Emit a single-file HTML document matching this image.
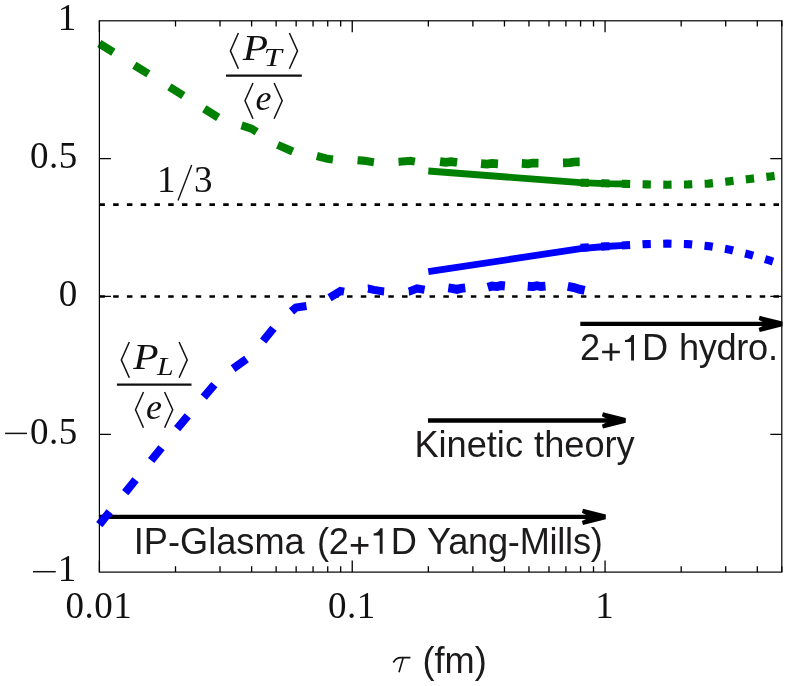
<!DOCTYPE html>
<html><head><meta charset="utf-8"><title>chart</title>
<style>html,body{margin:0;padding:0;background:#fff;}body{width:789px;height:686px;overflow:hidden;}svg{display:block;will-change:transform;}.s{font-family:"Liberation Serif",serif;fill:#111;}.h{font-family:"Liberation Sans",sans-serif;fill:#1c1a1b;}</style></head><body>
<svg width="789" height="686" viewBox="0 0 789 686">
<rect width="789" height="686" fill="#fff"/>
<line x1="99.4" y1="204.6" x2="781.8" y2="204.6" stroke="#000" stroke-width="2.7" stroke-dasharray="5.5 8.257"/>
<line x1="99.4" y1="296.5" x2="781.8" y2="296.5" stroke="#000" stroke-width="2.7" stroke-dasharray="5.5 8.257"/>
<path d="M99.40 572.10v-11.5M99.40 20.80v11.5M175.51 572.10v-5.8M175.51 20.80v5.8M220.03 572.10v-5.8M220.03 20.80v5.8M251.62 572.10v-5.8M251.62 20.80v5.8M276.13 572.10v-5.8M276.13 20.80v5.8M296.15 572.10v-5.8M296.15 20.80v5.8M313.07 572.10v-5.8M313.07 20.80v5.8M327.73 572.10v-5.8M327.73 20.80v5.8M340.67 572.10v-5.8M340.67 20.80v5.8M352.24 572.10v-11.5M352.24 20.80v11.5M428.35 572.10v-5.8M428.35 20.80v5.8M472.87 572.10v-5.8M472.87 20.80v5.8M504.46 572.10v-5.8M504.46 20.80v5.8M528.96 572.10v-5.8M528.96 20.80v5.8M548.98 572.10v-5.8M548.98 20.80v5.8M565.91 572.10v-5.8M565.91 20.80v5.8M580.57 572.10v-5.8M580.57 20.80v5.8M593.51 572.10v-5.8M593.51 20.80v5.8M605.07 572.10v-11.5M605.07 20.80v11.5M681.19 572.10v-5.8M681.19 20.80v5.8M725.71 572.10v-5.8M725.71 20.80v5.8M757.30 572.10v-5.8M757.30 20.80v5.8M781.80 572.10v-5.8M781.80 20.80v5.8M99.40 158.63h11.5M781.80 158.63h-11.5M99.40 296.45h11.5M781.80 296.45h-11.5M99.40 434.28h11.5M781.80 434.28h-11.5" stroke="#000" stroke-width="1.3" fill="none"/>
<line x1="580.3" y1="323.90" x2="767.5" y2="323.90" stroke="#000" stroke-width="4.4"/>
<polygon points="759.7,315.80 782.5,321.55 782.5,326.25 759.7,332.00 758.6,328.10 763.8,325.40 763.8,322.40 758.6,319.70" fill="#000"/>
<line x1="428.0" y1="420.45" x2="610.8" y2="420.45" stroke="#000" stroke-width="4.4"/>
<polygon points="603.0,412.35 625.8,418.10 625.8,422.80 603.0,428.55 601.9,424.65 607.1,421.95 607.1,418.95 601.9,416.25" fill="#000"/>
<line x1="99.3" y1="516.90" x2="590.8" y2="516.90" stroke="#000" stroke-width="4.4"/>
<polygon points="583.0,508.80 605.8,514.55 605.8,519.25 583.0,525.00 581.9,521.10 587.1,518.40 587.1,515.40 581.9,512.70" fill="#000"/>
<path d="M99.3 43.5 L175.4 90.6 L219.9 118.6 L251.5 128.6 L276.0 144.1 L296.0 153.0 L313.0 155.0 L327.6 158.8 L340.5 160.6 L352.1 159.8 L363.0 160.6 L372.1 161.9 L380.0 163.0 L399.5 161.8 L410.4 160.8 L415.8 161.8 L428.0 161.8" fill="none" stroke="#008000" stroke-width="8.1" stroke-dasharray="16.5 24.7"/>
<path d="M99.3 524.6 L175.4 430.6 L219.9 378.0 L251.5 355.5 L276.0 325.0 L296.0 307.5 L313.0 305.0 L327.6 298.9 L340.5 291.0 L352.1 293.0 L363.0 289.0 L368.3 288.5 L373.8 289.9 L383.9 291.5 L396.0 292.5 L409.2 291.5 L417.0 288.5 L425.1 289.9 L437.0 289.5" fill="none" stroke="#0000ff" stroke-width="8.1" stroke-dasharray="16.5 24.7"/>
<path d="M440.0 161.6 L446.0 162.4 L451.0 161.7 L457.1 162.5" fill="none" stroke="#008000" stroke-width="8.7"/>
<path d="M481.0 163.6 L487.0 164.1 L492.0 163.4 L498.0 163.8" fill="none" stroke="#008000" stroke-width="8.7"/>
<path d="M521.8 163.4 L528.0 163.8 L533.0 163.0 L538.5 163.1" fill="none" stroke="#008000" stroke-width="8.7"/>
<path d="M563.0 162.8 L570.0 162.6 L574.0 162.0 L579.7 161.9" fill="none" stroke="#008000" stroke-width="8.7"/>
<path d="M448.3 287.8 L452.0 288.3 L456.9 289.4 L461.0 288.4 L465.3 287.9" fill="none" stroke="#0000ff" stroke-width="8.9"/>
<path d="M487.8 287.2 L492.0 286.0 L497.0 286.6 L501.0 285.6 L504.9 286.0" fill="none" stroke="#0000ff" stroke-width="8.9"/>
<path d="M527.7 286.2 L533.0 286.6 L537.0 285.7 L541.0 286.5 L545.5 286.1" fill="none" stroke="#0000ff" stroke-width="8.9"/>
<path d="M567.8 286.4 L574.0 287.6 L579.0 289.2 L584.6 290.4" fill="none" stroke="#0000ff" stroke-width="8.9"/>
<path d="M428.3 171.0 L580.5 182.6 L605.0 183.6 L629.7 184.0" fill="none" stroke="#008000" stroke-width="6.8"/>
<path d="M428.3 271.7 L511.0 259.2 L580.7 248.6 L605.0 246.5 L629.7 245.2" fill="none" stroke="#0000ff" stroke-width="6.8"/>
<path d="M580.5 182.7 L584.4 182.8 L604.7 183.3 L625.5 183.9 L646.6 184.4 L667.1 184.7 L688.0 184.4 L708.5 183.6 L728.8 181.4 L749.6 178.9 L770.4 176.4 L781.7 175.0" fill="none" stroke="#008000" stroke-width="8.1" stroke-dasharray="8.3 12.4"/>
<path d="M580.5 247.7 L584.4 247.5 L605.2 246.4 L625.5 245.3 L646.3 244.1 L666.9 243.6 L687.7 244.1 L708.2 246.1 L728.5 249.4 L748.7 254.4 L768.7 260.2 L781.7 264.2" fill="none" stroke="#0000ff" stroke-width="8.1" stroke-dasharray="8.3 12.4"/>
<rect x="99.4" y="20.8" width="682.4" height="551.3" fill="none" stroke="#000" stroke-width="1.2"/>
<text class="s" x="57.7" y="29.7" font-size="37.0" letter-spacing="0.5" text-anchor="start">1</text>
<text class="s" x="30.1" y="168.3" font-size="37.0" letter-spacing="0.5" text-anchor="start">0.5</text>
<text class="s" x="58.7" y="305.7" font-size="37.0" letter-spacing="0.5" text-anchor="start">0</text>
<text class="s" x="30.1" y="444.0" font-size="37.0" letter-spacing="0.5" text-anchor="start">0.5</text>
<line x1="5.1" y1="433.4" x2="27.0" y2="433.4" stroke="#111" stroke-width="1.5"/>
<text class="s" x="57.8" y="581.0" font-size="37.0" letter-spacing="0.5" text-anchor="start">1</text>
<line x1="33.0" y1="571.7" x2="55.8" y2="571.7" stroke="#111" stroke-width="1.5"/>
<text class="s" x="65.5" y="618.4" font-size="37.0" letter-spacing="0.5" text-anchor="start">0.01</text>
<text class="s" x="328.1" y="618.4" font-size="37.0" letter-spacing="0.5" text-anchor="start">0.1</text>
<text class="s" x="595.2" y="618.4" font-size="37.0" letter-spacing="0.5" text-anchor="start">1</text>
<text class="s" x="157.0" y="192.2" font-size="37.0" letter-spacing="0.5" text-anchor="start">1</text>
<line x1="191.7" y1="165" x2="178" y2="200.6" stroke="#111" stroke-width="1.4"/>
<text class="s" x="194.0" y="192.2" font-size="37.0" letter-spacing="0.5" text-anchor="start">3</text>
<g transform="translate(0.0 0.0)">
<line x1="226.0" y1="75.6" x2="301.8" y2="75.6" stroke="#111" stroke-width="2.1"/>
<path d="M238.4 33L230.4 50.9L238.4 68.7M289.4 33L297.5 50.9L289.4 68.7M253 83L245 100.8L253 118.7M274.1 83L282.2 100.8L274.1 118.7" fill="none" stroke="#111" stroke-width="1.5"/>
<text class="s" transform="translate(242.7 60) scale(1.15 1)" font-size="36" font-style="italic">P</text>
<text class="s" transform="translate(263.8 65.5) scale(1.30 1)" font-size="25" font-style="italic">T</text>
<text class="s" x="255.5" y="109.6" font-size="36" font-style="italic">e</text>
</g>
<g transform="translate(-109.5 309.0)">
<line x1="226.4" y1="75.6" x2="301.0" y2="75.6" stroke="#111" stroke-width="2.1"/>
<path d="M238.8 33L230.8 50.9L238.8 68.7M288.6 33L296.7 50.9L288.6 68.7M253 83L245 100.8L253 118.7M274.1 83L282.2 100.8L274.1 118.7" fill="none" stroke="#111" stroke-width="1.5"/>
<text class="s" transform="translate(242.7 60) scale(1.15 1)" font-size="36" font-style="italic">P</text>
<text class="s" transform="translate(266.6 65.5) scale(1.20 1)" font-size="25" font-style="italic">L</text>
<text class="s" x="255.5" y="109.6" font-size="36" font-style="italic">e</text>
</g>
<text class="h" x="580.1" y="360.4" font-size="36.2">2</text>
<path d="M602.15 352.00h17.7M611.00 343.25v17.5" stroke="#1c1a1b" stroke-width="2.7" fill="none"/>
<path d="M631.10 342.00L625.00 342.00L625.00 340.10Q629.60 339.80 631.70 334.90L634.00 334.90L634.00 360.40L631.10 360.40Z" fill="#1c1a1b"/>
<text class="h" x="642.1" y="360.4" font-size="36.2">D</text>
<text class="h" x="678.9" y="360.4" font-size="36.2" letter-spacing="-0.30">hydro.</text>
<text class="h" x="414.4" y="456.6" font-size="36.2">Kinetic</text>
<text class="h" x="534.1" y="456.6" font-size="36.2">theory</text>
<text class="h" x="133.8" y="553.8" font-size="36.2">IP-Glasma</text>
<text class="h" x="317.0" y="553.8" font-size="36.2">(</text>
<text class="h" x="328.7" y="553.8" font-size="36.2">2</text>
<path d="M350.75 545.40h17.7M359.60 536.65v17.5" stroke="#1c1a1b" stroke-width="2.7" fill="none"/>
<path d="M379.70 535.40L373.60 535.40L373.60 533.50Q378.20 533.20 380.30 528.30L382.60 528.30L382.60 553.80L379.70 553.80Z" fill="#1c1a1b"/>
<text class="h" x="390.7" y="553.8" font-size="36.2">D</text>
<text class="h" x="427.0" y="553.8" font-size="36.2" letter-spacing="-0.25">Yang-Mills)</text>
<path d="M393.3 662.5C395.5 658.6 398 657.6 401 657.6L410.4 657.6M403.2 657.8L399 672.3" fill="none" stroke="#111" stroke-width="1.6"/>
<text class="h" x="422.5" y="672.6" font-size="36.2">(fm)</text>
</svg></body></html>
